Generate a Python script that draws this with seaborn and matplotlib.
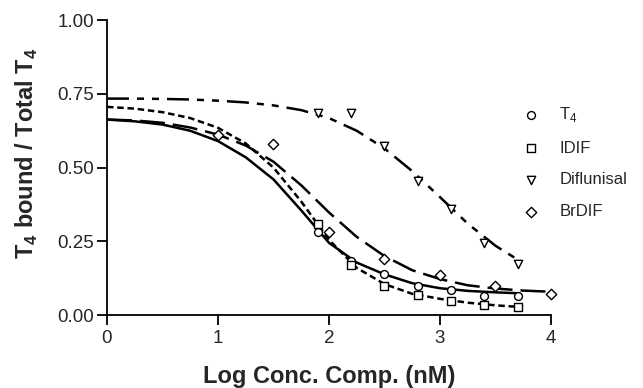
import matplotlib
matplotlib.use("Agg")
import matplotlib.pyplot as plt
import seaborn as sns

sns.set_style("ticks")
plt.rcParams['font.family'] = ['Liberation Sans', 'DejaVu Sans']
plt.rcParams['mathtext.fontset'] = 'custom'
plt.rcParams['mathtext.rm'] = 'Liberation Sans'
plt.rcParams['mathtext.bf'] = 'Liberation Sans:bold'

# measured points (x = log conc. in nM)
conc_x = [1.9, 2.2, 2.5, 2.8, 3.1, 3.4, 3.7]
t4_y = [0.28, 0.185, 0.14, 0.098, 0.085, 0.066, 0.066]
idif_y = [0.31, 0.17, 0.10, 0.068, 0.047, 0.034, 0.026]
diflunisal_y = [0.684, 0.686, 0.573, 0.455, 0.36, 0.243, 0.172]
brdif_x = [1.0, 1.5, 2.0, 2.5, 3.0, 3.5, 4.0]
brdif_y = [0.61, 0.58, 0.28, 0.19, 0.135, 0.10, 0.073]

# fitted curves
fit_x = [0, 0.25, 0.5, 0.75, 1.0, 1.25, 1.5, 1.75, 2.0, 2.25, 2.5, 2.75, 3.0, 3.25, 3.5, 3.7]
fit_x_br = [0, 0.25, 0.5, 0.75, 1.0, 1.25, 1.5, 1.75, 2.0, 2.25, 2.5, 2.75, 3.0, 3.25, 3.5, 3.75, 4.0]
t4_fit = [0.663, 0.657, 0.646, 0.625, 0.590, 0.535, 0.460, 0.355, 0.245, 0.178, 0.138, 0.108,
          0.091, 0.082, 0.077, 0.074]
idif_fit = [0.706, 0.700, 0.688, 0.668, 0.635, 0.582, 0.500, 0.385, 0.255, 0.160, 0.105, 0.072,
            0.055, 0.042, 0.033, 0.028]
diflunisal_fit = [0.734, 0.734, 0.733, 0.731, 0.727, 0.721, 0.711, 0.695, 0.668, 0.625, 0.565,
                  0.488, 0.400, 0.310, 0.235, 0.188]
brdif_fit = [0.663, 0.660, 0.652, 0.636, 0.612, 0.575, 0.520, 0.440, 0.348, 0.265, 0.200, 0.152,
             0.122, 0.101, 0.090, 0.083, 0.079]

labels = ["T$_4$", "IDIF", "Diflunisal", "BrDIF"]

fig = plt.figure(figsize=(6.43, 3.88), dpi=100)
ax = fig.add_axes([0.1664, 0.188, 0.6905, 0.760])

lw = 1.8
line_kw = dict(ax=ax, color="black", lw=lw, sort=False, estimator=None, legend=False)
sns.lineplot(x=fit_x, y=t4_fit, linestyle="-", **line_kw)
sns.lineplot(x=fit_x, y=idif_fit, linestyle=(0, (2.6, 1.5)), **line_kw)
sns.lineplot(x=fit_x, y=diflunisal_fit, linestyle=(0, (8.8, 3.2, 2.8, 3.2, 2.8, 3.2)), **line_kw)
sns.lineplot(x=fit_x_br, y=brdif_fit, linestyle=(0, (10, 3.2)), **line_kw)

mk = dict(color="white", edgecolor="black", linewidth=1.0, clip_on=False, zorder=3, ax=ax)
sns.scatterplot(x=conc_x, y=t4_y, marker="o", s=32, label=labels[0], **mk)
sns.scatterplot(x=conc_x, y=idif_y, marker="s", s=30, label=labels[1], **mk)
sns.scatterplot(x=conc_x, y=diflunisal_y, marker="v", s=36, label=labels[2], **mk)
sns.scatterplot(x=brdif_x, y=brdif_y, marker="D", s=28, label=labels[3], **mk)

ax.set_xlim(0, 4)
ax.set_ylim(0, 1)
ax.set_xticks([0, 1, 2, 3, 4])
ax.set_yticks([0, 0.25, 0.5, 0.75, 1.0])
ax.set_yticklabels(["0.00", "0.25", "0.50", "0.75", "1.00"])
ax.tick_params(labelsize=13.5, length=7, width=1.3, color="black", pad=2)
ax.tick_params(axis="x", pad=4)
for s in ["left", "bottom"]:
    ax.spines[s].set_linewidth(1.3)
    ax.spines[s].set_color("black")
sns.despine(ax=ax)

ax.set_xlabel("Log Conc. Comp. (nM)", fontsize=17, fontweight="bold")
ax.set_ylabel(r"T$_\mathbf{4}$ bound / Total T$_\mathbf{4}$", fontsize=17, fontweight="bold")
ax.xaxis.set_label_coords(0.5, -0.17)
ax.yaxis.set_label_coords(-0.15, 0.55)

ax.legend(loc="upper left", bbox_to_anchor=(0.813, 0.729), bbox_transform=fig.transFigure,
          frameon=False, fontsize=12, handlelength=1.0, handletextpad=1.2,
          labelspacing=1.0, borderpad=0, borderaxespad=0)

fig.savefig("out.png", dpi=100)
